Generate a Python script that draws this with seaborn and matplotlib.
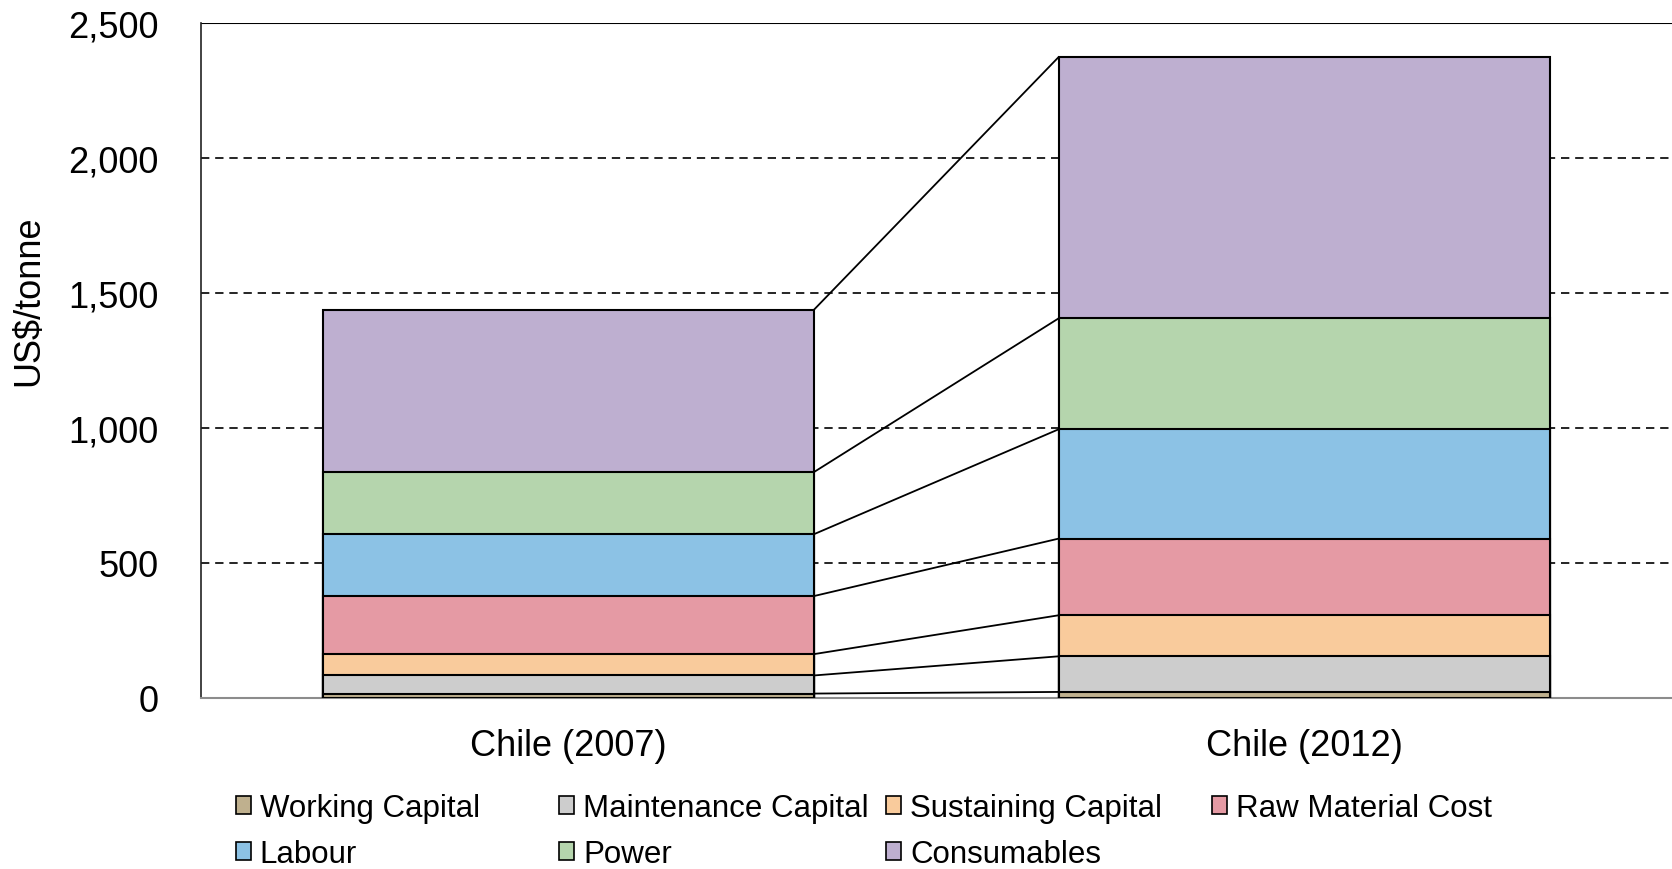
import matplotlib
matplotlib.use("Agg")
import matplotlib.pyplot as plt
from matplotlib.patches import Patch
from matplotlib.ticker import FuncFormatter
import numpy as np
import seaborn as sns

categories = ["Chile (2007)", "Chile (2012)"]
components = ["Working Capital", "Maintenance Capital", "Sustaining Capital",
              "Raw Material Cost", "Labour", "Power", "Consumables"]
working_capital = [15, 21]
maintenance_capital = [67, 132]
sustaining_capital = [79, 152]
raw_material_cost = [215, 284]
labour = [229, 405]
power = [230, 411]
consumables = [601, 968]
colors = ["#BFB08E", "#CDCDCD", "#F9CB9C", "#E59AA4", "#8CC2E5", "#B5D5AD", "#BEAFD0"]

series = [working_capital, maintenance_capital, sustaining_capital,
          raw_material_cost, labour, power, consumables]

sns.set_theme(style="white")
plt.rcParams["font.family"] = ["Liberation Sans", "DejaVu Sans"]
plt.rcParams["text.color"] = "black"
plt.rcParams["axes.labelcolor"] = "black"
plt.rcParams["xtick.color"] = "black"
plt.rcParams["ytick.color"] = "black"

fig = plt.figure(figsize=(16.72, 8.70), dpi=100)
ax = fig.add_axes([0.12, 0.1970, 0.88, 0.7759])

cum = np.cumsum(np.array(series, dtype=float), axis=0)
bar_w = 0.667

# stacked bars: draw cumulative totals from the top layer down
for i in range(len(components) - 1, -1, -1):
    sns.barplot(x=categories, y=cum[i], color=colors[i], width=bar_w,
                edgecolor="black", linewidth=1.5, ax=ax, zorder=3,
                saturation=1)

# connector lines between the segment boundaries of the two bars
for i in range(len(components)):
    ax.plot([0 + bar_w / 2, 1 - bar_w / 2], [cum[i][0], cum[i][1]],
            color="black", linewidth=1.3, zorder=2)

ax.set_xlim(-0.5, 1.5)
ax.set_ylim(0, 2500)
ax.set_yticks([0, 500, 1000, 1500, 2000, 2500])
ax.yaxis.set_major_formatter(FuncFormatter(lambda v, p: f"{int(v):,}"))
for y in [500, 1000, 1500, 2000]:
    ax.axhline(y, color="black", linewidth=1.2, linestyle=(0, (5, 3.5)), zorder=1)
ax.axhline(2500, color="black", linewidth=1.5, zorder=1)

ax.spines["right"].set_visible(False)
ax.spines["top"].set_visible(False)
ax.spines["left"].set_color("#222222")
ax.spines["left"].set_linewidth(1.2)
ax.spines["bottom"].set_color("#8C8C8C")
ax.spines["bottom"].set_linewidth(1.5)

ax.tick_params(axis="y", length=0, pad=30, labelsize=26, labelcolor="black")
ax.tick_params(axis="x", which="major", length=0, pad=22, labelsize=26, labelcolor="black")
ax.set_xticks([-0.5, 0.5, 1.5], minor=True)
ax.tick_params(axis="x", which="minor", length=7, width=1.3, color="#8C8C8C", direction="out")
ax.set_xlabel("")
ax.set_ylabel("US$/tonne", fontsize=26, color="black")
ax.yaxis.set_label_coords(-0.105, 0.589)

# legend laid out as a 4-column grid
handles = [Patch(facecolor=c, edgecolor="black", linewidth=1.2) for c in colors]
columns = [[0, 4], [1, 5], [2, 6], [3]]
col_x = [0.1410, 0.3345, 0.5300, 0.7250]
for xs, idx in zip(col_x, columns):
    leg = fig.legend([handles[k] for k in idx], [components[k] for k in idx],
                     loc="upper left", bbox_to_anchor=(xs, 0.087), frameon=False,
                     fontsize=22.5, handlelength=0.48, handleheight=0.48,
                     handletextpad=0.28, borderpad=0, borderaxespad=0,
                     labelspacing=0.5)
    for t in leg.get_texts():
        t.set_color("black")

fig.savefig("out.png", dpi=100)
